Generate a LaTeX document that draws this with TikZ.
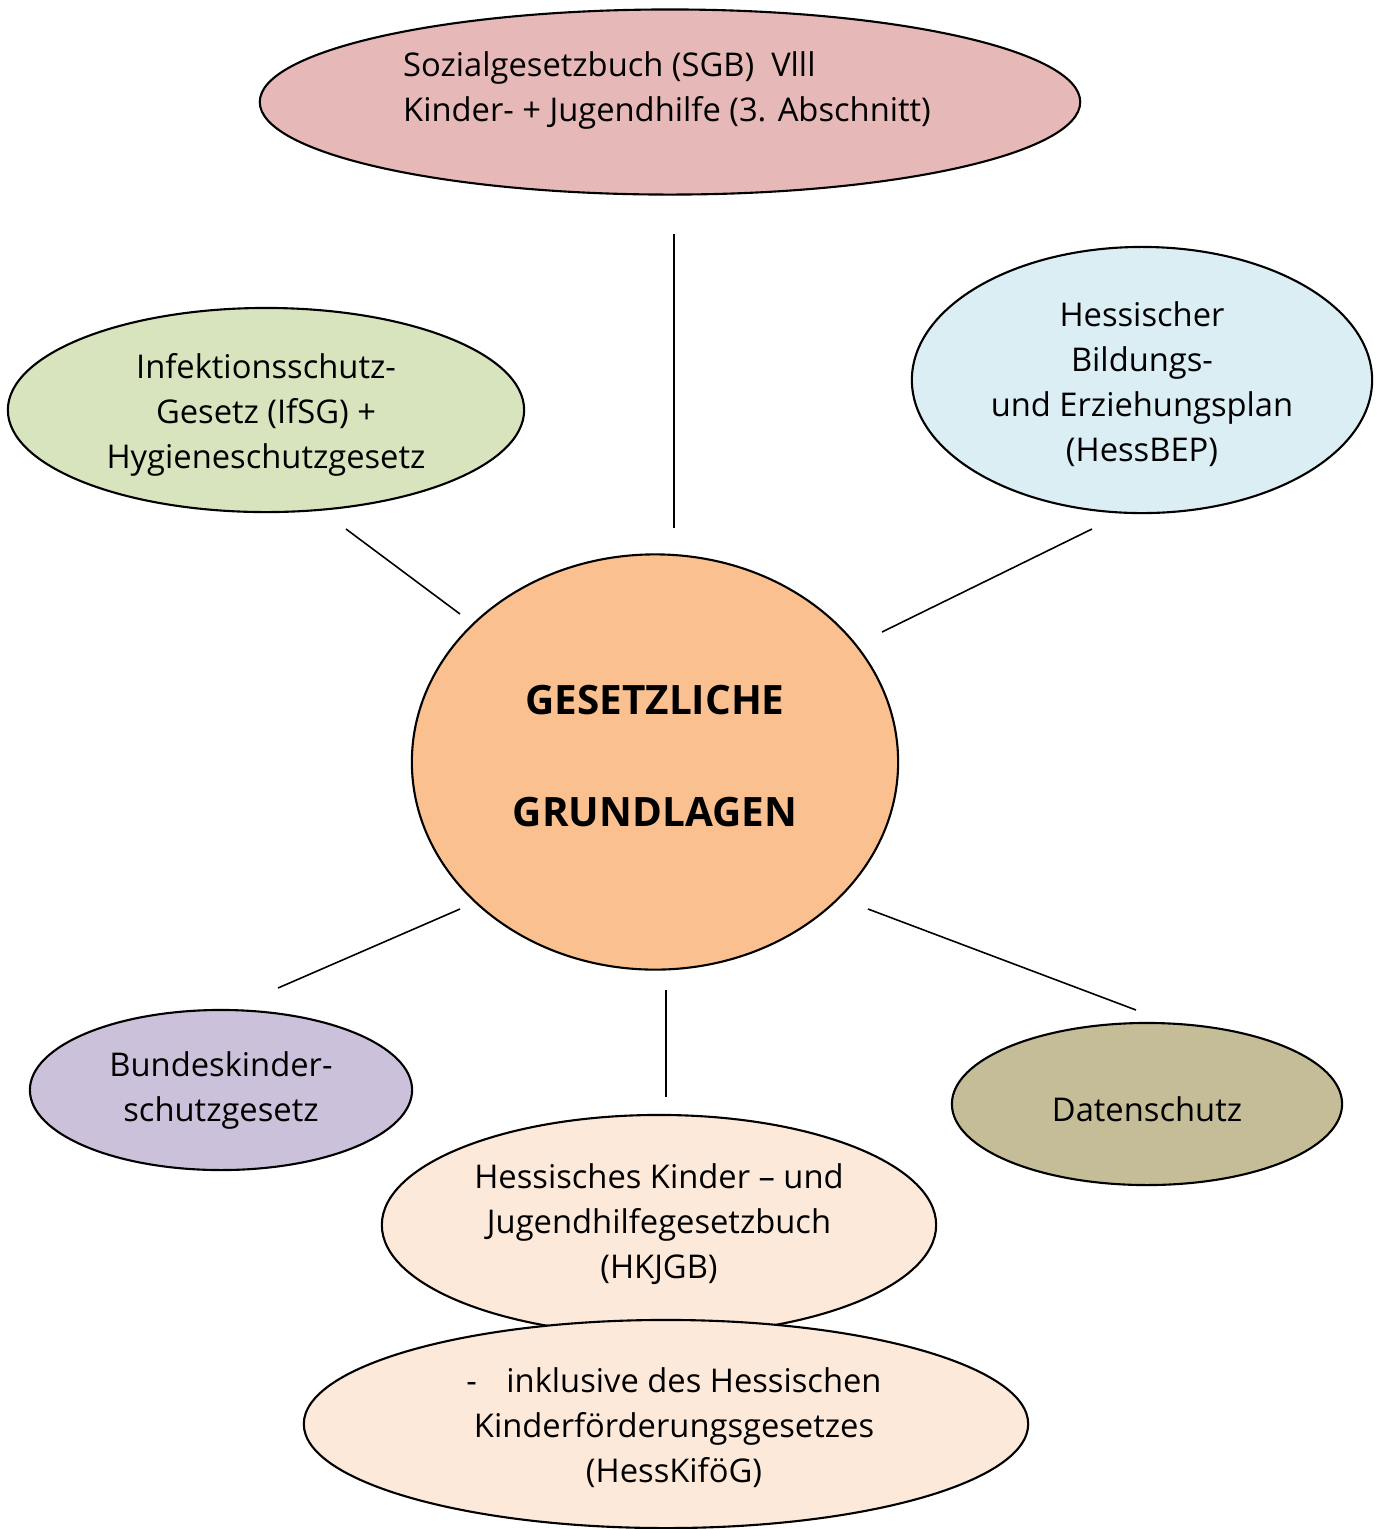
\documentclass[tikz,border=0pt]{standalone}
\usepackage{fontspec}
\setmainfont{Open Sans}
\usetikzlibrary{shapes.geometric}

\definecolor{sgbpink}{HTML}{E6B8B7}
\definecolor{ifsggreen}{HTML}{D7E4BD}
\definecolor{bepblue}{HTML}{DBEEF4}
\definecolor{coreorange}{HTML}{FAC090}
\definecolor{bkspurple}{HTML}{CCC1DA}
\definecolor{dsolive}{HTML}{C4BD97}
\definecolor{hkpeach}{HTML}{FDE9D9}

\tikzset{
  lawbox/.style={ellipse, draw=black, line width=0.6pt, inner sep=0pt},
  lawtext/.style={align=center, inner sep=0pt, font=\fontsize{9.3}{12.8}\selectfont},
  spoke/.style={line width=0.45pt}
}

\begin{document}
\begin{tikzpicture}[x=0.01cm, y=-0.01cm]
  \useasboundingbox (0,0) rectangle (1381,1529);

  % ellipses
  \node[lawbox, fill=sgbpink, minimum width=8.2cm, minimum height=1.85cm] (sgb) at (670,102) {};
  \node[lawbox, fill=ifsggreen, minimum width=5.16cm, minimum height=2.04cm] (ifsg) at (266,410) {};
  \node[lawbox, fill=bepblue, minimum width=4.6cm, minimum height=2.66cm] (bep) at (1142,380) {};
  \node[lawbox, fill=coreorange, minimum width=4.86cm, minimum height=4.15cm] (core) at (655,762) {};
  \node[lawbox, fill=bkspurple, minimum width=3.82cm, minimum height=1.6cm] (bks) at (221,1090) {};
  \node[lawbox, fill=dsolive, minimum width=3.9cm, minimum height=1.62cm] (ds) at (1147,1104) {};
  \node[lawbox, fill=hkpeach, minimum width=5.54cm, minimum height=2.2cm] (hkjgb) at (659,1225) {};
  \node[lawbox, fill=hkpeach, minimum width=7.24cm, minimum height=2.08cm] (kifoeg) at (666,1424) {};

  % texts
  \node[lawtext, align=left] (sgbtxt) at (667,90) {Sozialgesetzbuch (SGB)\ \ Vlll\\Kinder- + Jugendhilfe (3. Abschnitt)};
  \node[lawtext] (ifsgtxt) at (266,415) {Infektionsschutz-\\Gesetz (IfSG) +\\Hygieneschutzgesetz};
  \node[lawtext] (beptxt) at (1142,384) {Hessischer\\Bildungs-\\und Erziehungsplan\\(HessBEP)};
  \node[align=center, inner sep=0pt, font=\fontsize{11.5}{14}\selectfont\bfseries] (coretxt) at (655,756) {GESETZLICHE\\[0.62cm]GRUNDLAGEN};
  \node[lawtext] (bkstxt) at (221,1090) {Bundeskinder-\\schutzgesetz};
  \node[lawtext] (dstxt) at (1147,1109) {Datenschutz};
  \node[lawtext] (hkjgbtxt) at (659,1224) {Hessisches Kinder -- und\\Jugendhilfegesetzbuch\\(HKJGB)};
  \node[lawtext] (kifoegtxt) at (674,1428) {-\hspace{0.9em}inklusive des Hessischen\\Kinderförderungsgesetzes\\(HessKiföG)};

  % spokes
  \coordinate (s1a) at (674,234);  \coordinate (s1b) at (674,528);
  \coordinate (s2a) at (346,529);  \coordinate (s2b) at (460,614);
  \coordinate (s3a) at (1092,529); \coordinate (s3b) at (882,632);
  \coordinate (s4a) at (460,909);  \coordinate (s4b) at (278,988);
  \coordinate (s5a) at (666,990);  \coordinate (s5b) at (666,1097);
  \coordinate (s6a) at (868,909);  \coordinate (s6b) at (1136,1010);
  \foreach \i in {1,...,6}
    \draw[spoke] (s\i a) -- (s\i b);
\end{tikzpicture}
\end{document}
